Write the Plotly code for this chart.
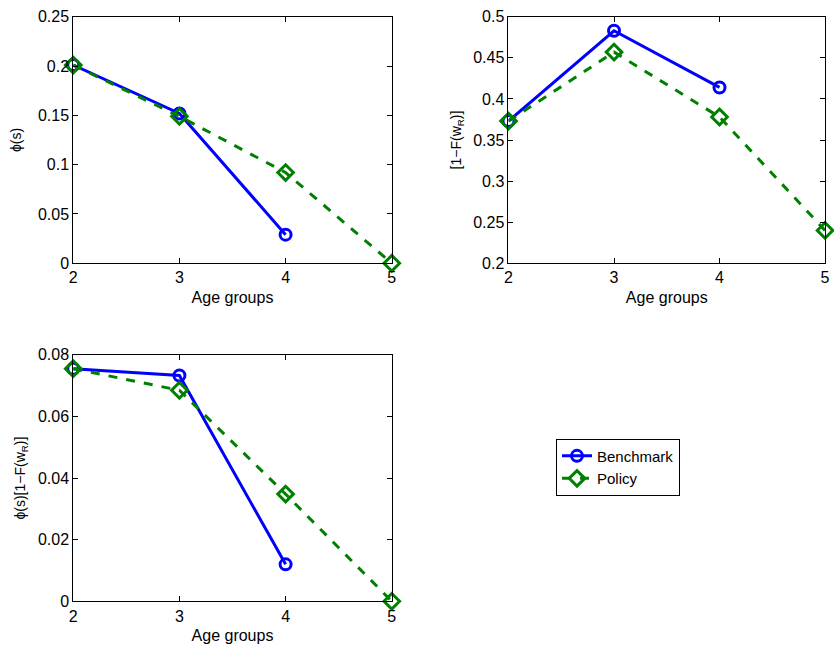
import plotly.graph_objects as go

age_bench = [2, 3, 4]
age_policy = [2, 3, 4, 5]

phi_bench = [0.201, 0.152, 0.029]
phi_policy = [0.201, 0.149, 0.092, 0.0]

oneF_bench = [0.373, 0.483, 0.414]
oneF_policy = [0.373, 0.457, 0.378, 0.240]

prod_bench = [0.0755, 0.0733, 0.012]
prod_policy = [0.0755, 0.0685, 0.0348, 0.0]

BLUE = "#0000ff"
GREEN = "#008000"
FONT = "Liberation Sans, Arial, sans-serif"

fig = go.Figure()

panels = [
    ("x", "y", phi_bench, phi_policy),
    ("x2", "y2", oneF_bench, oneF_policy),
    ("x3", "y3", prod_bench, prod_policy),
]
for i, (xa, ya, b, p) in enumerate(panels):
    fig.add_trace(go.Scatter(
        x=age_bench, y=b, xaxis=xa, yaxis=ya, mode="lines+markers",
        name="Benchmark", showlegend=(i == 0), cliponaxis=False,
        line=dict(color=BLUE, width=3),
        marker=dict(symbol="circle-open", size=11, color=BLUE, line=dict(width=3, color=BLUE)),
    ))
    fig.add_trace(go.Scatter(
        x=age_policy, y=p, xaxis=xa, yaxis=ya, mode="lines+markers",
        name="Policy", showlegend=(i == 0), cliponaxis=False,
        line=dict(color=GREEN, width=3, dash="dash"),
        marker=dict(symbol="diamond-open", size=12, color=GREEN, line=dict(width=3, color=GREEN)),
    ))

def xax(domain, anchor):
    return dict(domain=domain, anchor=anchor, range=[2, 5], tickvals=[2, 3, 4, 5],
                ticks="inside", ticklen=5, tickcolor="black", showline=True, linecolor="black",
                linewidth=1, mirror="ticks", showgrid=False, zeroline=False,
                tickfont=dict(size=16, color="black", family=FONT),
                title=dict(text="Age groups", font=dict(size=16, color="black", family=FONT), standoff=6))

def yax(domain, anchor, rng, dtick, title, standoff):
    return dict(domain=domain, anchor=anchor, range=rng, dtick=dtick, tick0=0,
                ticks="inside", ticklen=5, tickcolor="black", showline=True, linecolor="black",
                linewidth=1, mirror="ticks", showgrid=False, zeroline=False,
                tickfont=dict(size=16, color="black", family=FONT),
                title=dict(text=title, font=dict(size=14, color="black", family=FONT), standoff=standoff))

top = [1 - 262 / 660, 1 - 9 / 660]
bot = [1 - 609 / 660, 1 - 356 / 660]
left = [70 / 834, 392 / 834]
right = [510 / 834, 830 / 834]

fig.update_layout(
    width=834, height=660,
    margin=dict(l=0, r=0, t=0, b=0),
    paper_bgcolor="white", plot_bgcolor="white",
    font=dict(family=FONT, color="black"),
    xaxis=xax(left, "y"),
    yaxis=yax(top, "x", [0, 0.25], 0.05, "ϕ(s)", 12),
    xaxis2=xax(right, "y2"),
    yaxis2=yax(top, "x2", [0.2, 0.5], 0.05, "[1−F(w<sub>R</sub>)]", 8),
    xaxis3=xax(left, "y3"),
    yaxis3=yax(bot, "x3", [0, 0.08], 0.02, "ϕ(s)[1−F(w<sub>R</sub>)]", 8),
    legend=dict(x=558 / 834, y=1 - 442 / 660, xanchor="left", yanchor="top",
                bordercolor="black", borderwidth=1, bgcolor="white",
                font=dict(size=15, color="black", family=FONT),
                tracegroupgap=0, itemwidth=30),
    showlegend=True,
)

fig.write_html("out.html", config={"displayModeBar": False},
               post_script="document.body.style.margin='0';document.body.style.padding='0';")
